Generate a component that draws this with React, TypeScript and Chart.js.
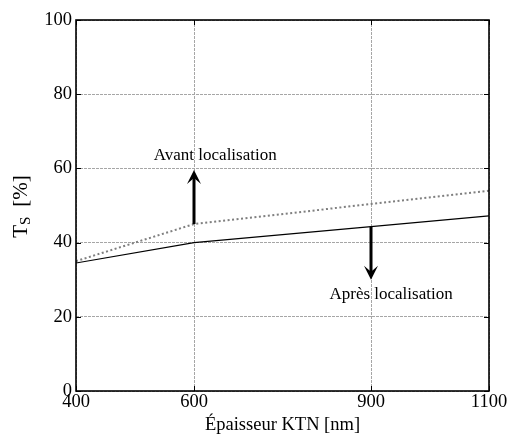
import React, { useEffect, useRef } from "react";
import { Chart, registerables } from "chart.js";

Chart.register(...registerables);

// ---- data ----
const thickness = [400, 600, 900, 1100];
const apres = [34.5, 40, 44.3, 47.2];
const avant = [35, 45, 50.4, 54];
const xTicks = [400, 600, 900, 1100];
const yTicks = [0, 20, 40, 60, 80, 100];
const xTitle = "Épaisseur KTN [nm]";
const yTitleMain = "T";
const yTitleSub = "S";
const yTitleUnit = "[%]";
// arrows: [x, yFrom, yTo]
const arrowAvant = [600, 45, 59.6];
const arrowApres = [900, 44.3, 30];
// text labels: [x, y]
const labelAvantPos = [636, 63.5];
const labelApresPos = [934, 26];
const labelAvant = "Avant localisation";
const labelApres = "Après localisation";

const SERIF = '"Liberation Serif", "Times New Roman", serif';

const overlay = {
  id: "overlay",
  afterDraw(chart: any) {
    const { ctx, chartArea: a, scales } = chart;
    const xs = scales.x;
    const ys = scales.y;
    ctx.save();
    // inner ticks
    ctx.strokeStyle = "#000";
    ctx.lineWidth = 1;
    ctx.setLineDash([]);
    const tl = 5;
    xTicks.forEach((v) => {
      const px = Math.round(xs.getPixelForValue(v)) + 0.5;
      ctx.beginPath();
      ctx.moveTo(px, a.bottom);
      ctx.lineTo(px, a.bottom - tl);
      ctx.moveTo(px, a.top);
      ctx.lineTo(px, a.top + tl);
      ctx.stroke();
    });
    yTicks.forEach((v) => {
      const py = Math.round(ys.getPixelForValue(v)) + 0.5;
      ctx.beginPath();
      ctx.moveTo(a.left, py);
      ctx.lineTo(a.left + tl, py);
      ctx.moveTo(a.right, py);
      ctx.lineTo(a.right - tl, py);
      ctx.stroke();
    });
    // box
    ctx.lineWidth = 1.6;
    ctx.strokeRect(a.left, a.top, a.right - a.left, a.bottom - a.top);

    // arrows
    const drawArrow = (arr: number[]) => {
      const x = xs.getPixelForValue(arr[0]);
      const y0 = ys.getPixelForValue(arr[1]);
      const y1 = ys.getPixelForValue(arr[2]);
      const dir = y1 < y0 ? -1 : 1;
      const hl = 14;
      const hw = 7;
      ctx.strokeStyle = "#000";
      ctx.fillStyle = "#000";
      ctx.lineWidth = 3;
      ctx.beginPath();
      ctx.moveTo(x, y0);
      ctx.lineTo(x, y1 - dir * 6);
      ctx.stroke();
      ctx.beginPath();
      ctx.moveTo(x, y1);
      ctx.lineTo(x - hw, y1 - dir * hl);
      ctx.lineTo(x, y1 - dir * (hl - 6));
      ctx.lineTo(x + hw, y1 - dir * hl);
      ctx.closePath();
      ctx.fill();
    };
    drawArrow(arrowAvant);
    drawArrow(arrowApres);

    // text labels
    ctx.fillStyle = "#000";
    ctx.font = `17px ${SERIF}`;
    ctx.textAlign = "center";
    ctx.textBaseline = "middle";
    ctx.fillText(labelAvant, xs.getPixelForValue(labelAvantPos[0]), ys.getPixelForValue(labelAvantPos[1]));
    ctx.fillText(labelApres, xs.getPixelForValue(labelApresPos[0]), ys.getPixelForValue(labelApresPos[1]));

    // x title
    ctx.font = `18.5px ${SERIF}`;
    ctx.fillText(xTitle, (a.left + a.right) / 2, 425);

    // y title (rotated)
    ctx.translate(21, (a.top + a.bottom) / 2 + 1);
    ctx.rotate(-Math.PI / 2);
    ctx.textAlign = "left";
    ctx.textBaseline = "middle";
    const fMain = `21px ${SERIF}`;
    const fSub = `15px ${SERIF}`;
    ctx.font = fMain;
    const wT = ctx.measureText(yTitleMain).width;
    const wU = ctx.measureText(yTitleUnit).width;
    ctx.font = fSub;
    const wS = ctx.measureText(yTitleSub).width;
    const gap = 10;
    const total = wT + wS + gap + wU;
    let cx = -total / 2;
    ctx.font = fMain;
    ctx.fillText(yTitleMain, cx, 0);
    cx += wT;
    ctx.font = fSub;
    ctx.fillText(yTitleSub, cx, 5);
    cx += wS + gap;
    ctx.font = fMain;
    ctx.fillText(yTitleUnit, cx, 0);
    ctx.restore();
  },
};

export default function App() {
  const ref = useRef<HTMLCanvasElement | null>(null);
  useEffect(() => {
    if (!ref.current) return;
    const chart = new Chart(ref.current, {
      type: "line",
      data: {
        datasets: [
          {
            label: "Après",
            data: thickness.map((x, i) => ({ x, y: apres[i] })),
            borderColor: "#000",
            borderWidth: 1.2,
            pointRadius: 0,
            fill: false,
          },
          {
            label: "Avant",
            data: thickness.map((x, i) => ({ x, y: avant[i] })),
            borderColor: "#7f7f7f",
            borderWidth: 2,
            borderDash: [2, 2.5],
            pointRadius: 0,
            fill: false,
          },
        ],
      },
      options: {
        responsive: false,
        animation: false,
        devicePixelRatio: 1,
        layout: { padding: { top: 20, right: 20, left: 0, bottom: 0 } },
        plugins: { legend: { display: false }, tooltip: { enabled: false } },
        scales: {
          x: {
            type: "linear",
            min: 400,
            max: 1100,
            afterBuildTicks: (s: any) => {
              s.ticks = xTicks.map((v) => ({ value: v }));
            },
            afterFit: (s: any) => {
              s.height = 47;
            },
            grid: { color: "#a6a6a6", lineWidth: 1, drawTicks: false },
            border: { display: false, dash: [3, 1] },
            ticks: {
              color: "#000",
              font: { family: SERIF, size: 18.5 },
              padding: 0,
              maxRotation: 0,
              autoSkip: false,
              callback: (v: any) => String(v),
            },
          },
          y: {
            type: "linear",
            min: 0,
            max: 100,
            afterBuildTicks: (s: any) => {
              s.ticks = yTicks.map((v) => ({ value: v }));
            },
            afterFit: (s: any) => {
              s.width = 76;
            },
            grid: { color: "#a6a6a6", lineWidth: 1, drawTicks: false },
            border: { display: false, dash: [3, 1] },
            ticks: {
              color: "#000",
              font: { family: SERIF, size: 18.5 },
              padding: 4,
              callback: (v: any) => String(v),
            },
          },
        },
      },
      plugins: [overlay],
    });
    return () => chart.destroy();
  }, []);
  return (
    <div style={{ position: "absolute", left: 0, top: 0, width: 509, height: 438, background: "#fff" }}>
      <canvas ref={ref} width={509} height={438} style={{ display: "block" }} />
    </div>
  );
}
